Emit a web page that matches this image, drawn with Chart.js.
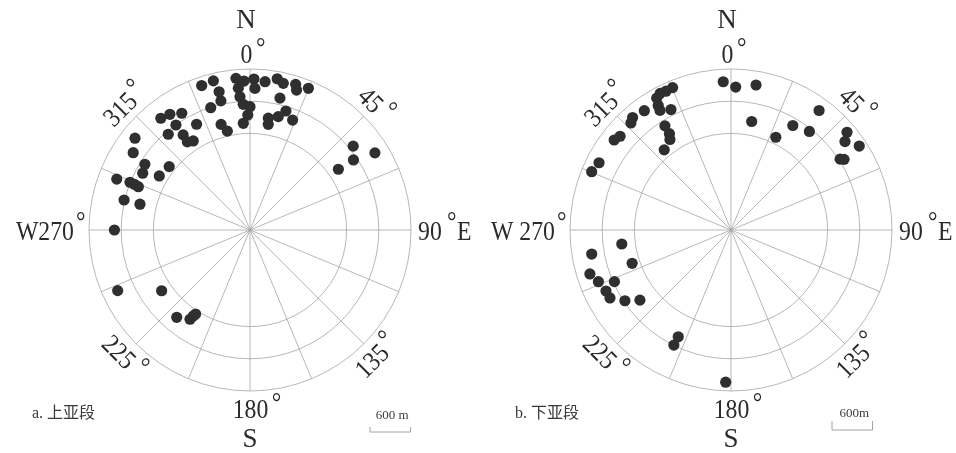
<!DOCTYPE html>
<html lang="zh">
<head>
<meta charset="UTF-8">
<title>Polar dot plots</title>
<style>
  body { margin: 0; background: #fff; }
  #wrap { position: relative; width: 956px; height: 453px; }
  canvas { position: absolute; top: 0; }
</style>
</head>
<body>
<div id="wrap">
  <canvas id="chartA" width="478" height="453" style="left:0"></canvas>
  <canvas id="chartB" width="478" height="453" style="left:478px"></canvas>
</div>
<script src="https://cdn.jsdelivr.net/npm/chart.js@4/dist/chart.umd.min.js"></script>
<script>
// a. 上亚段 : azimuth (deg, clockwise from N) and distance (ring units)
const azimuthA = [341.5, 346.2, 347.4, 347.3, 342.2, 354.7, 357.7, 355.3, 355.7, 356.9,
  0, 358.9, 356.4, 1.5, 2.0, 5.8, 10.2, 12.8, 17.4, 18.4,
  22.4, 12.8, 16.8, 14.0, 9.3, 9.8, 21.2, 344.7, 347.1, 333.2,
  321.4, 325.3, 329.7, 324.8, 319.5, 324.9, 324.6, 327.5, 308.6, 303.5,
  302, 297.9, 300.8, 308.1, 290.9, 291.7, 291.6, 291.2, 283.4, 283.2,
  270, 50.9, 58.3, 55.9, 55.5, 245.4, 235.5, 220, 213.9, 213.4, 212.9];
const distanceA = [4.73, 4.77, 4.40, 4.11, 3.99, 4.73, 4.63, 4.42, 4.15, 3.91,
  3.83, 3.57, 3.32, 4.69, 4.40, 4.63, 4.77, 4.67, 4.74, 4.58,
  4.76, 4.20, 3.86, 3.63, 3.52, 3.33, 3.66, 3.40, 3.15, 3.68,
  4.44, 4.37, 4.20, 3.99, 3.91, 3.61, 3.36, 3.28, 4.57, 4.35,
  3.85, 3.77, 3.28, 3.19, 4.43, 4.01, 3.86, 3.72, 4.02, 3.51,
  4.21, 4.13, 4.56, 3.88, 3.33, 4.52, 3.33, 3.54, 3.34, 3.20, 3.11];

// b. 下亚段
const azimuthB = [337.7, 334.9, 332.6, 330.6, 329.7, 329.3, 333.5, 324, 318.8, 316.9,
  310.2, 307.6, 297, 292.7, 327.6, 327.4, 326, 320.2, 357, 1.9,
  9.8, 10.8, 25.8, 30.6, 38.5, 36.4, 49.9, 52.2, 56.8, 57,
  58, 262.7, 260.2, 251.4, 252.7, 248.7, 246.1, 244, 240.7, 236.3,
  232.4, 206.3, 206.4, 182];
const distanceB = [4.78, 4.76, 4.78, 4.70, 4.48, 4.32, 4.18, 4.58, 4.64, 4.55,
  4.51, 4.58, 4.60, 4.69, 3.83, 3.55, 3.39, 3.24, 4.61, 4.44,
  4.57, 3.43, 3.20, 3.77, 3.91, 4.61, 4.71, 4.48, 4.76, 4.04,
  4.14, 3.42, 4.39, 3.24, 4.59, 4.42, 3.96, 4.32, 4.31, 3.96,
  3.57, 3.70, 3.99, 4.73];

const rings = [3, 4, 5];
const spokeStep = 22.5;
const diagonalTicks = [315, 45, 135, 225];
const scaleBarUnits = 1.26;   // 600 m

function toXY(az, dist) {
  return az.map((a, i) => {
    const t = a * Math.PI / 180;
    return { x: dist[i] * Math.sin(t), y: dist[i] * Math.cos(t) };
  });
}

const serif = '"Liberation Serif", "DejaVu Serif", serif';
const ink = '#2b2b2b';

function degLabel(ctx, num, x, y, rot) {
  ctx.save();
  ctx.translate(x, y);
  ctx.rotate(rot);
  ctx.scale(0.88, 1);
  ctx.font = '27px ' + serif;
  ctx.textBaseline = 'alphabetic';
  ctx.textAlign = 'left';
  const w = ctx.measureText(num).width;
  const wd = ctx.measureText('°').width;
  const total = w + 4 + wd;
  ctx.fillText(num, -total / 2, 9.5);
  ctx.fillText('°', -total / 2 + w + 4, 3);
  ctx.restore();
}

const polarPlugin = {
  id: 'polarGrid',
  beforeDatasetsDraw(chart, args, o) {
    const { ctx, scales: { x, y } } = chart;
    const cx = x.getPixelForValue(0), cy = y.getPixelForValue(0);
    const u = x.getPixelForValue(1) - cx;
    const outer = Math.max(...rings) * u;
    ctx.save();
    ctx.strokeStyle = '#a4a4a4';
    ctx.lineWidth = 0.8;
    rings.forEach(r => {
      ctx.beginPath();
      ctx.arc(cx, cy, r * u, 0, Math.PI * 2);
      ctx.stroke();
    });
    for (let a = 0; a < 360; a += spokeStep) {
      const t = a * Math.PI / 180;
      ctx.beginPath();
      ctx.moveTo(cx, cy);
      ctx.lineTo(cx + outer * Math.sin(t), cy - outer * Math.cos(t));
      ctx.stroke();
    }
    ctx.restore();
  },
  afterDraw(chart, args, o) {
    const { ctx, scales: { x, y } } = chart;
    const cx = x.getPixelForValue(0), cy = y.getPixelForValue(0);
    const u = x.getPixelForValue(1) - cx;
    ctx.save();
    ctx.fillStyle = ink;
    ctx.font = '27px ' + serif;
    ctx.textAlign = 'center';
    ctx.textBaseline = 'alphabetic';
    ctx.fillText('N', cx - 4, cy - 202);
    ctx.fillText('S', cx, cy + 217);
    degLabel(ctx, '0', cx + 3, cy - 177, 0);
    degLabel(ctx, '180', cx + 7, cy + 178, 0);

    // west / east
    ctx.save();
    ctx.translate(cx, cy);
    ctx.scale(0.88, 1);
    ctx.font = '27px ' + serif;
    ctx.textAlign = 'right';
    ctx.fillText(o.west, -176 / 0.88, 10);
    ctx.textAlign = 'left';
    ctx.fillText('°', -174 / 0.88, 0);
    ctx.fillText('90', 168 / 0.88, 10);
    ctx.fillText('°', 197 / 0.88, 0);
    ctx.fillText('E', 207 / 0.88, 10);
    ctx.restore();

    diagonalTicks.forEach(a => {
      const t = a * Math.PI / 180;
      const d = 178;
      const rot = (a === 315 || a === 135) ? -Math.PI / 4 : Math.PI / 4;
      degLabel(ctx, String(a), cx + d * Math.sin(t), cy - d * Math.cos(t), rot);
    });

    // caption
    ctx.font = '16px ' + serif + ', "Noto Sans CJK SC"';
    ctx.fillStyle = '#3a3a3a';
    ctx.textAlign = 'left';
    ctx.fillText(o.caption, cx + o.capX, cy + 188);

    // scale bar (600 m)
    const len = scaleBarUnits * u;
    ctx.font = '13px ' + serif;
    ctx.textAlign = 'center';
    ctx.fillText(o.barText, cx + o.barX + len / 2 + 2, cy + o.barTextY);
    ctx.strokeStyle = '#8a8a8a';
    ctx.lineWidth = 0.8;
    ctx.beginPath();
    ctx.moveTo(cx + o.barX, cy + o.barY - o.barTick);
    ctx.lineTo(cx + o.barX, cy + o.barY);
    ctx.lineTo(cx + o.barX + len, cy + o.barY);
    ctx.lineTo(cx + o.barX + len, cy + o.barY - o.barTick);
    ctx.stroke();
    ctx.restore();
  }
};

function makeChart(id, az, dist, pad, labels) {
  return new Chart(document.getElementById(id), {
    type: 'scatter',
    data: {
      datasets: [{
        data: toXY(az, dist),
        backgroundColor: '#2f2f2f',
        borderWidth: 0,
        pointRadius: 5.6,
        clip: false
      }]
    },
    options: {
      responsive: false,
      devicePixelRatio: 1,
      animation: false,
      layout: { padding: pad },
      plugins: { legend: { display: false }, tooltip: { enabled: false }, polarGrid: labels },
      scales: {
        x: { type: 'linear', min: -5, max: 5, display: false },
        y: { type: 'linear', min: -5, max: 5, display: false }
      }
    },
    plugins: [polarPlugin]
  });
}

makeChart('chartA', azimuthA, distanceA,
  { left: 89, right: 67, top: 69, bottom: 62 },
  { west: 'W270', caption: 'a. 上亚段', capX: -218, barText: '600 m', barX: 120, barY: 202, barTick: 5, barTextY: 189 });

makeChart('chartB', azimuthB, distanceB,
  { left: 92, right: 64, top: 69, bottom: 62 },
  { west: 'W 270', caption: 'b. 下亚段', capX: -216, barText: '600m', barX: 101, barY: 200, barTick: 9, barTextY: 187 });
</script>
</body>
</html>
